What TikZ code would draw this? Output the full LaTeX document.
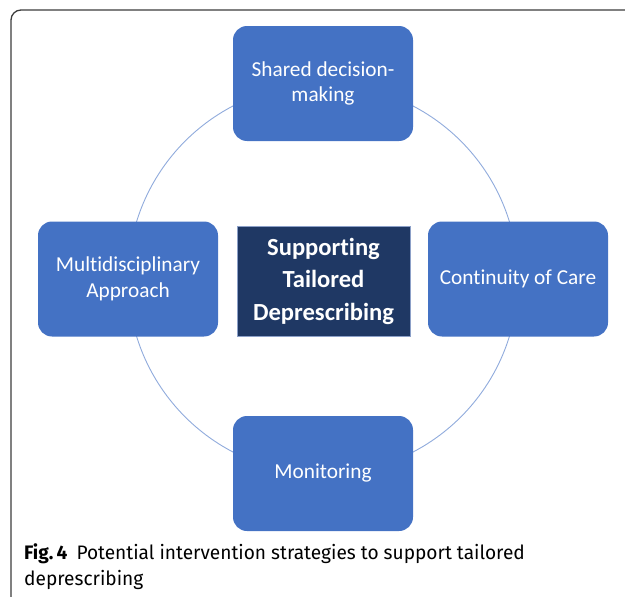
\documentclass[tikz,border=0pt]{standalone}
\usepackage{fontspec}
\setmainfont{Carlito}[Ligatures=NoCommon]
\newfontfamily\capfont{Fira Sans}[FakeStretch=0.98]
\begin{document}
\begin{tikzpicture}[x=1pt,y=-1pt,
  outerbox/.style={draw=none,fill=boxblue,rounded corners=14pt,minimum width=180pt,minimum height=115pt,text=white,align=center,font=\fontsize{21.3}{25.5}\selectfont,inner sep=2pt},
  hubbox/.style={draw=hubedge,line width=1pt,fill=hubnavy,minimum width=173pt,minimum height=110pt,text=white,align=center,font=\bfseries\fontsize{24.6}{32.5}\selectfont,inner sep=0pt}]
\definecolor{boxblue}{RGB}{68,114,196}
\definecolor{hubnavy}{RGB}{31,56,100}
\definecolor{hubedge}{RGB}{140,160,200}
\definecolor{ringblue}{RGB}{143,170,220}
\definecolor{framegray}{RGB}{60,60,60}
\useasboundingbox (0,0) rectangle (625,597);
\draw[framegray,line width=1.3pt,rounded corners=10pt] (11,597) -- (11,10) -- (625,10);
\coordinate (ctr) at (323,279);
\draw[ringblue,line width=0.9pt] (ctr) circle[radius=195];
\node[outerbox] (top) at (323,83.5) {Shared decision-\\making};
\node[outerbox] (left) at (128,279) {Multidisciplinary\\Approach};
\node[outerbox] (right) at (518,279) {Continuity of Care};
\node[outerbox] (bottom) at (323,473.5) {Monitoring};
\node[hubbox] (hub) at (323.5,281) {Supporting\\Tailored\\Deprescribing};
\node[anchor=north west,align=left,inner sep=0pt,font=\capfont\fontsize{19.5}{26}\selectfont] (cap) at (24,543)
  {\textbf{Fig.\,4}\hspace{9pt}Potential intervention strategies to support tailored\\deprescribing};
\end{tikzpicture}
\end{document}
